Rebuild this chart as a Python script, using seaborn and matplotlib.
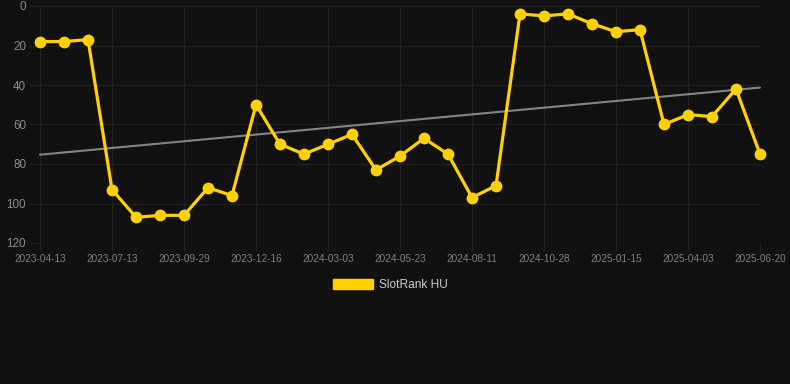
import matplotlib
matplotlib.use("Agg")
import matplotlib.pyplot as plt
import seaborn as sns
import pandas as pd
import numpy as np
from matplotlib.patches import Patch

# ---- data ----
rank_values = [18, 18, 17, 93, 107, 106, 106, 92, 96, 50,
               70, 75, 70, 65, 83, 76, 67, 75, 97, 91,
               4, 5, 4, 9, 13, 12, 60, 55, 56, 42, 75]
tick_labels = ["2023-04-13", "2023-07-13", "2023-09-29", "2023-12-16",
               "2024-03-03", "2024-05-23", "2024-08-11", "2024-10-28",
               "2025-01-15", "2025-04-03", "2025-06-20"]
series_name = "SlotRank HU"
y_ticks = [0, 20, 40, 60, 80, 100, 120]

BG = "#111111"
GRID = "#202020"
YELLOW = "#FFD100"
TREND = "#858585"

sns.set_theme(style="dark")
plt.rcParams["font.family"] = ["Liberation Sans", "DejaVu Sans"]

df = pd.DataFrame({"idx": np.arange(len(rank_values)), "rank": rank_values})

fig = plt.figure(figsize=(7.9, 3.84), dpi=100, facecolor=BG)
ax = fig.add_axes([40 / 790, 1 - 243 / 384, 720 / 790, 237 / 384])
ax.set_facecolor(BG)

sns.regplot(data=df, x="idx", y="rank", scatter=False, ci=None, ax=ax,
            line_kws={"color": TREND, "linewidth": 1.5, "zorder": 2})
sns.lineplot(data=df, x="idx", y="rank", ax=ax, color=YELLOW, linewidth=2.3,
             marker="o", markersize=8.5, markeredgewidth=0, zorder=3)
for ln in ax.get_lines():
    ln.set_clip_on(False)

ax.set_xlim(0, len(rank_values) - 1)
ax.set_ylim(120, 0)
ax.set_xticks(np.arange(0, len(rank_values), 3))
ax.set_xticklabels(tick_labels)
ax.set_yticks(y_ticks)
ax.set_yticklabels([str(v) for v in y_ticks])
ax.set_xlabel("")
ax.set_ylabel("")

ax.grid(True, color=GRID, linewidth=1)
for s in ax.spines.values():
    s.set_visible(False)
ax.tick_params(axis="y", colors=GRID, labelcolor="#8c8c8c", labelsize=8.4,
               length=8, width=1, pad=2, left=True)
ax.tick_params(axis="x", colors=GRID, labelcolor="#808080", labelsize=7.2,
               length=6, width=1, pad=2, bottom=True)

fs = 8.6
handle = Patch(facecolor=YELLOW, edgecolor=YELLOW)
fig.legend([handle], [series_name], loc="center", bbox_to_anchor=(0.494, 1 - 285 / 384),
           frameon=False, fontsize=fs, labelcolor="#cccccc",
           handlelength=3.3, handleheight=0.9, handletextpad=0.5)

fig.savefig("out.png", dpi=100, facecolor=BG)
